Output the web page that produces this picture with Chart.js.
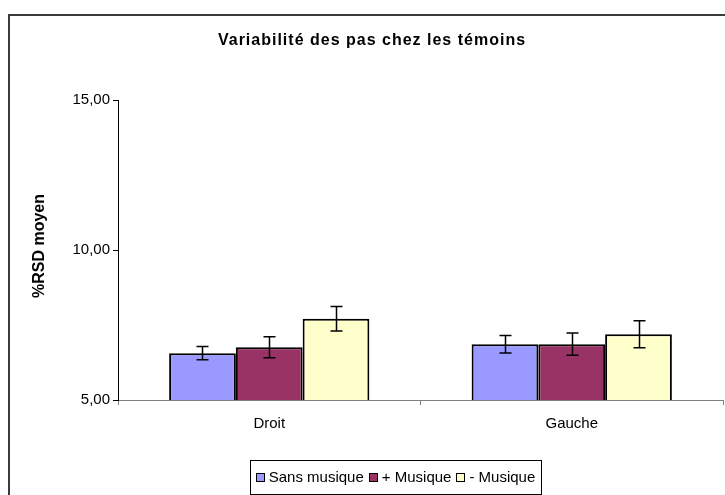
<!DOCTYPE html>
<html>
<head>
<meta charset="utf-8">
<script src="https://cdn.jsdelivr.net/npm/chart.js@4"></script>
<style>
  html, body { margin: 0; padding: 0; background: #ffffff; }
  #wrap { width: 725px; height: 495px; position: relative; }
</style>
</head>
<body>
<div id="wrap"><canvas id="c" width="725" height="495"></canvas></div>
<script>
// Step variability (%RSD) per side, by listening condition
const categories = ['Droit', 'Gauche'];
const seriesNames = ['Sans musique', '+ Musique', '- Musique'];
const sansMusique = [6.56, 6.86];
const plusMusique = [6.76, 6.86];
const moinsMusique = [7.71, 7.19];
const sansMusiqueErr = [0.22, 0.29];
const plusMusiqueErr = [0.35, 0.37];
const moinsMusiqueErr = [0.41, 0.45];
const yTicks = [5, 10, 15];
const chartTitle = 'Variabilité des pas chez les témoins';
const yTitle = '%RSD moyen';
const seriesColors = ['#9999FF', '#993366', '#FFFFCC'];

const FONT = 'Liberation Sans, Arial, sans-serif';

const fmt = v => v.toFixed(2).replace('.', ',');

// Vertical error bars with caps, centred on each bar
const errorBars = {
  id: 'errorBars',
  afterDatasetsDraw(chart) {
    const ctx = chart.ctx;
    const y = chart.scales.y;
    ctx.save();
    ctx.strokeStyle = '#000';
    ctx.lineWidth = 1.5;
    chart.data.datasets.forEach((ds, i) => {
      const meta = chart.getDatasetMeta(i);
      meta.data.forEach((bar, j) => {
        const v = ds.data[j], e = ds.errors[j];
        const x = Math.round(bar.x) + 0.5;
        const yt = y.getPixelForValue(v + e);
        const yb = y.getPixelForValue(v - e);
        const cap = 6;
        ctx.beginPath();
        ctx.moveTo(x, yt); ctx.lineTo(x, yb);
        ctx.moveTo(x - cap, yt); ctx.lineTo(x + cap, yt);
        ctx.moveTo(x - cap, yb); ctx.lineTo(x + cap, yb);
        ctx.stroke();
      });
    });
    ctx.restore();
  }
};

// Outer frame, title, vertical axis title and boxed legend
const decorations = {
  id: 'decorations',
  afterDraw(chart) {
    const ctx = chart.ctx;
    ctx.save();
    // outer frame
    ctx.strokeStyle = '#3a3a3a';
    ctx.lineWidth = 2;
    ctx.strokeRect(9, 15, 800, 600);

    // chart title
    ctx.fillStyle = '#000';
    ctx.font = 'bold 16px ' + FONT;
    ctx.letterSpacing = '1px';
    ctx.textAlign = 'center';
    ctx.textBaseline = 'middle';
    ctx.fillText(chartTitle, 372, 41);
    ctx.letterSpacing = '0px';

    // y axis title
    ctx.save();
    ctx.translate(40, 246);
    ctx.rotate(-Math.PI / 2);
    ctx.font = 'bold 16px ' + FONT;
    ctx.fillText(yTitle, 0, 0);
    ctx.restore();

    // legend
    const bx = 250, by = 460, bw = 291, bh = 34;
    ctx.lineWidth = 1;
    ctx.strokeStyle = '#000';
    ctx.strokeRect(bx + 0.5, by + 0.5, bw, bh);
    ctx.font = '15px ' + FONT;
    ctx.textAlign = 'left';
    const sq = 9, gapIn = 4, gapOut = 5;
    const widths = chart.data.datasets.map(d => ctx.measureText(d.label).width);
    let total = 0;
    widths.forEach((w, i) => { total += sq + gapIn + w + (i < widths.length - 1 ? gapOut : 0); });
    let x = bx + (bw - total) / 2;
    const cy = by + bh / 2 + 0.5;
    chart.data.datasets.forEach((d, i) => {
      ctx.fillStyle = d.backgroundColor;
      ctx.fillRect(Math.round(x), Math.round(cy - sq / 2), sq, sq);
      ctx.strokeStyle = '#000';
      ctx.strokeRect(Math.round(x) + 0.5, Math.round(cy - sq / 2) + 0.5, sq - 1, sq - 1);
      ctx.fillStyle = '#000';
      ctx.fillText(d.label, x + sq + gapIn, cy);
      x += sq + gapIn + widths[i] + gapOut;
    });
    ctx.restore();
  }
};

const seriesValues = [sansMusique, plusMusique, moinsMusique];
const seriesErrors = [sansMusiqueErr, plusMusiqueErr, moinsMusiqueErr];

new Chart(document.getElementById('c'), {
  type: 'bar',
  data: {
    labels: categories,
    datasets: seriesNames.map((name, i) => ({
      label: name,
      data: seriesValues[i],
      errors: seriesErrors[i],
      backgroundColor: seriesColors[i],
      borderColor: '#000',
      borderWidth: 2,
      borderSkipped: false,
      categoryPercentage: 0.662,
      barPercentage: 1.0
    }))
  },
  options: {
    responsive: false,
    devicePixelRatio: 1,
    animation: false,
    layout: { padding: { top: 100, right: 2, bottom: 0, left: 0 } },
    plugins: {
      legend: { display: false },
      title: { display: false },
      tooltip: { enabled: false }
    },
    scales: {
      x: {
        grid: { display: true, drawOnChartArea: false, drawTicks: true, tickLength: 5, color: '#808080', offset: true },
        border: { display: true, color: '#808080', width: 1 },
        ticks: { color: '#000', font: { family: FONT, size: 15 }, padding: 10 },
        afterFit: s => { s.height = 95; }
      },
      y: {
        min: 5,
        max: 15,
        afterBuildTicks: s => { s.ticks = yTicks.map(v => ({ value: v })); },
        grid: { display: true, drawOnChartArea: false, drawTicks: true, tickLength: 5, color: '#000' },
        border: { display: true, color: '#000', width: 1 },
        ticks: { color: '#000', font: { family: FONT, size: 15 }, padding: 3, callback: v => fmt(v) },
        afterFit: s => { s.width = 118; }
      }
    }
  },
  plugins: [errorBars, decorations]
});
</script>
</body>
</html>
